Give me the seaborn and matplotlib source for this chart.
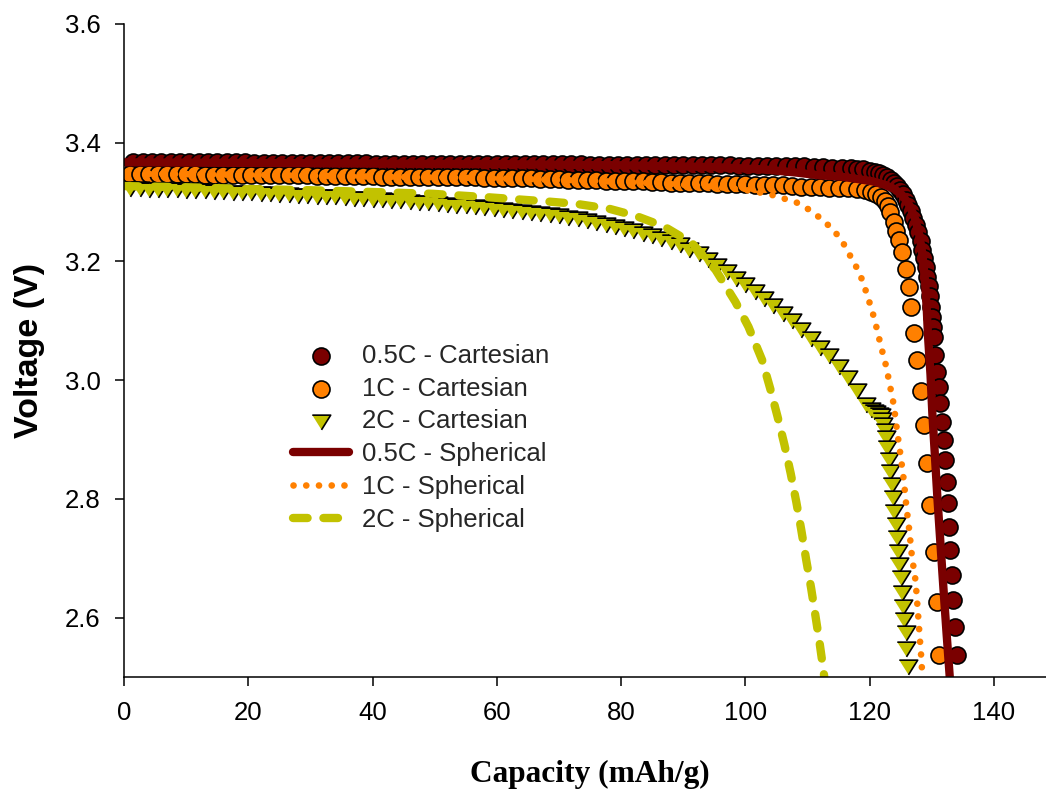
import matplotlib
matplotlib.use("Agg")
import matplotlib.pyplot as plt
import seaborn as sns
import pandas as pd

# ---------------- data ----------------
# 0.5C - Cartesian (capacity mAh/g, voltage V)
cart_05C = [
    (1.5, 3.367), (3.0, 3.367), (4.5, 3.367), (6.0, 3.367), (7.5, 3.367), (9.0, 3.367),
    (10.5, 3.367), (12.0, 3.367), (13.5, 3.367), (15.0, 3.367), (16.5, 3.367), (18.0, 3.367),
    (19.5, 3.367), (21.0, 3.366), (22.5, 3.366), (24.0, 3.366), (25.5, 3.366), (27.0, 3.366),
    (28.5, 3.366), (30.0, 3.366), (31.5, 3.366), (33.0, 3.366), (34.5, 3.366), (36.0, 3.366),
    (37.5, 3.366), (39.0, 3.366), (40.5, 3.365), (42.0, 3.365), (43.5, 3.365), (45.0, 3.365),
    (46.5, 3.365), (48.0, 3.365), (49.5, 3.365), (51.0, 3.365), (52.5, 3.365), (54.0, 3.365),
    (55.5, 3.365), (57.0, 3.365), (58.5, 3.365), (60.0, 3.364), (61.5, 3.364), (63.0, 3.364),
    (64.5, 3.364), (66.0, 3.364), (67.5, 3.364), (69.0, 3.364), (70.5, 3.364), (72.0, 3.364),
    (73.5, 3.364), (75.0, 3.363), (76.5, 3.363), (78.0, 3.363), (79.5, 3.363), (81.0, 3.363),
    (82.5, 3.363), (84.0, 3.363), (85.5, 3.363), (87.0, 3.363), (88.5, 3.362), (90.0, 3.362),
    (91.5, 3.362), (93.0, 3.362), (94.5, 3.362), (96.0, 3.362), (97.5, 3.362), (99.0, 3.361),
    (100.5, 3.361), (102.0, 3.361), (103.5, 3.361), (105.0, 3.361), (106.5, 3.360), (108.0, 3.360),
    (109.5, 3.360), (111.0, 3.359), (112.5, 3.359), (114.0, 3.358), (115.5, 3.358),
    (117.0, 3.357), (118.0, 3.356), (119.0, 3.355), (120.0, 3.353), (120.8, 3.351), (121.5, 3.349),
    (122.2, 3.346), (122.8, 3.342), (123.4, 3.338), (123.9, 3.333), (124.4, 3.327), (124.9, 3.320),
    (125.3, 3.313), (125.8, 3.304), (126.2, 3.295), (126.6, 3.285), (127.0, 3.274), (127.4, 3.262),
    (127.8, 3.249), (128.2, 3.235), (128.5, 3.220), (128.8, 3.205), (129.1, 3.190), (129.3, 3.174),
    (129.5, 3.158), (129.7, 3.141), (129.9, 3.124), (130.1, 3.107), (130.2, 3.090), (130.3, 3.073),
    (130.6, 3.042), (130.9, 3.014), (131.1, 2.989), (131.4, 2.961), (131.7, 2.930), (131.9, 2.899),
    (132.2, 2.865), (132.4, 2.829), (132.6, 2.793), (132.7, 2.753), (133.0, 2.714), (133.3, 2.672),
    (133.5, 2.630), (133.8, 2.585), (134.1, 2.537),
]

# 1C - Cartesian
cart_1C = [
    (1.0, 3.348), (2.5, 3.348), (4.0, 3.348), (5.5, 3.347), (7.0, 3.347), (8.5, 3.347),
    (10.0, 3.347), (11.5, 3.347), (13.0, 3.346), (14.5, 3.346), (16.0, 3.346), (17.5, 3.346),
    (19.0, 3.346), (20.5, 3.346), (22.0, 3.345), (23.5, 3.345), (25.0, 3.345), (26.5, 3.345),
    (28.0, 3.345), (29.5, 3.345), (31.0, 3.344), (32.5, 3.344), (34.0, 3.344), (35.5, 3.344),
    (37.0, 3.344), (38.5, 3.344), (40.0, 3.344), (41.5, 3.343), (43.0, 3.343), (44.5, 3.343),
    (46.0, 3.343), (47.5, 3.343), (49.0, 3.343), (50.5, 3.343), (52.0, 3.342), (53.5, 3.342),
    (55.0, 3.342), (56.5, 3.342), (58.0, 3.341), (59.5, 3.341), (61.0, 3.341), (62.5, 3.340),
    (64.0, 3.340), (65.5, 3.340), (67.0, 3.339), (68.5, 3.339), (70.0, 3.339), (71.5, 3.338),
    (73.0, 3.338), (74.5, 3.337), (76.0, 3.337), (77.5, 3.336), (79.0, 3.336), (80.5, 3.336),
    (82.0, 3.335), (83.5, 3.335), (85.0, 3.334), (86.5, 3.334), (88.0, 3.333), (89.5, 3.333),
    (91.0, 3.333), (92.5, 3.332), (94.0, 3.332), (95.5, 3.331), (97.0, 3.331), (98.5, 3.330),
    (100.0, 3.330), (101.5, 3.329), (103.0, 3.329), (104.5, 3.328), (106.0, 3.328), (107.5, 3.327),
    (109.0, 3.326), (110.5, 3.326), (112.0, 3.325), (113.5, 3.324), (115.0, 3.324), (116.5, 3.323),
    (118.0, 3.322), (119.2, 3.320), (120.2, 3.317), (121.1, 3.313), (121.8, 3.308), (122.4, 3.302),
    (122.9, 3.294), (123.3, 3.284), (123.9, 3.267), (124.3, 3.252), (124.7, 3.236), (125.2, 3.216),
    (125.8, 3.188), (126.3, 3.157), (126.6, 3.124), (127.2, 3.080), (127.6, 3.034), (128.2, 2.981),
    (128.7, 2.924), (129.3, 2.860), (129.8, 2.790), (130.3, 2.711), (130.8, 2.627), (131.1, 2.537),
]

# 2C - Cartesian
cart_2C = [
    (1.0, 3.322), (2.5, 3.322), (4.0, 3.321), (5.5, 3.321), (7.0, 3.320), (8.5, 3.320),
    (10.0, 3.319), (11.5, 3.318), (13.0, 3.318), (14.5, 3.317), (16.0, 3.317), (17.5, 3.316),
    (19.0, 3.315), (20.5, 3.315), (22.0, 3.314), (23.5, 3.313), (25.0, 3.312), (26.5, 3.312),
    (28.0, 3.311), (29.5, 3.310), (31.0, 3.309), (32.5, 3.308), (34.0, 3.308), (35.5, 3.307),
    (37.0, 3.306), (38.5, 3.305), (40.0, 3.304), (41.5, 3.303), (43.0, 3.302), (44.5, 3.301),
    (46.0, 3.300), (47.5, 3.299), (49.0, 3.298), (50.5, 3.297), (52.0, 3.295), (53.5, 3.294),
    (55.0, 3.293), (56.5, 3.291), (58.0, 3.290), (59.5, 3.288), (61.0, 3.287), (62.5, 3.285),
    (64.0, 3.284), (65.5, 3.282), (67.0, 3.280), (68.5, 3.278), (70.0, 3.276), (71.5, 3.274),
    (73.0, 3.271), (74.5, 3.268), (76.0, 3.265), (77.5, 3.262), (79.0, 3.258), (80.5, 3.255),
    (82.0, 3.251), (83.5, 3.247), (85.0, 3.243), (86.5, 3.238), (88.0, 3.233), (89.5, 3.227),
    (91.0, 3.220), (92.5, 3.212), (94.0, 3.203), (95.5, 3.193), (97.0, 3.182), (98.5, 3.171),
    (100.0, 3.160), (101.5, 3.148), (103.0, 3.137), (104.5, 3.125), (106.0, 3.112), (107.5, 3.099),
    (109.0, 3.085), (110.5, 3.070), (112.0, 3.055), (113.5, 3.040), (115.0, 3.023), (116.5, 3.003),
    (118.0, 2.982), (119.5, 2.958), (120.2, 2.950), (120.7, 2.946), (121.1, 2.944), (121.5, 2.942),
    (121.8, 2.939), (122.0, 2.933), (122.2, 2.925), (122.4, 2.914), (122.6, 2.902), (122.8, 2.885),
    (123.1, 2.866), (123.3, 2.846), (123.6, 2.823), (123.8, 2.801), (124.0, 2.778), (124.2, 2.756),
    (124.4, 2.734), (124.6, 2.711), (124.8, 2.689), (125.0, 2.666), (125.2, 2.641), (125.4, 2.618),
    (125.6, 2.596), (125.8, 2.574), (125.9, 2.548), (126.1, 2.517),
]

# 0.5C - Spherical (model line)
sph_05C = [
    (0.0, 3.367), (20.0, 3.366), (40.0, 3.365), (60.0, 3.364), (80.0, 3.362), (95.0, 3.359),
    (103.0, 3.355), (108.0, 3.350), (112.0, 3.345), (115.3, 3.343), (118.0, 3.339), (120.5, 3.335),
    (122.5, 3.329), (124.0, 3.322), (125.3, 3.311), (126.4, 3.295), (127.3, 3.273), (128.0, 3.245),
    (128.5, 3.212), (128.9, 3.170), (129.2, 3.120), (129.4, 3.075), (129.8, 3.010), (130.1, 2.944),
    (130.5, 2.875), (130.9, 2.804), (131.4, 2.725), (131.9, 2.647), (132.4, 2.572), (132.9, 2.500),
]

# 1C - Spherical
sph_1C = [
    (0.0, 3.348), (20.0, 3.346), (40.0, 3.343), (60.0, 3.340), (75.0, 3.336), (85.0, 3.332),
    (92.0, 3.328), (97.0, 3.324), (100.3, 3.320), (102.4, 3.316), (104.3, 3.312), (106.2, 3.306),
    (108.3, 3.299), (110.3, 3.287), (112.2, 3.272), (114.2, 3.253), (115.7, 3.232), (116.8, 3.211),
    (117.9, 3.190), (118.8, 3.169), (119.5, 3.147), (120.1, 3.127), (120.7, 3.106), (121.2, 3.085),
    (121.7, 3.063), (122.2, 3.042), (122.7, 3.022), (123.1, 3.000), (123.9, 2.958), (124.4, 2.916),
    (125.0, 2.872), (125.5, 2.832), (125.9, 2.789), (126.4, 2.746), (126.8, 2.704), (127.4, 2.662),
    (127.7, 2.620), (128.0, 2.577), (128.3, 2.535), (128.5, 2.500),
]

# 2C - Spherical
sph_2C = [
    (0.0, 3.327), (10.0, 3.325), (20.0, 3.322), (30.0, 3.320), (40.0, 3.317), (49.6, 3.314),
    (58.8, 3.308), (68.2, 3.301), (72.8, 3.297), (78.0, 3.289), (82.3, 3.277), (86.9, 3.259),
    (91.4, 3.231), (95.2, 3.186), (98.4, 3.132), (100.5, 3.090), (102.7, 3.034), (104.0, 2.986),
    (105.2, 2.938), (106.3, 2.891), (107.3, 2.843), (108.2, 2.795), (109.0, 2.748), (109.8, 2.697),
    (110.6, 2.649), (111.3, 2.602), (112.0, 2.554), (112.6, 2.509), (112.7, 2.500),
]

labels = ["0.5C - Cartesian", "1C - Cartesian", "2C - Cartesian",
          "0.5C - Spherical", "1C - Spherical", "2C - Spherical"]
x_ticks = [0, 20, 40, 60, 80, 100, 120, 140]
y_ticks = [2.6, 2.8, 3.0, 3.2, 3.4, 3.6]

# ---------------- style ----------------
sns.set_theme(style="ticks")
plt.rcParams["font.family"] = ["Liberation Sans", "DejaVu Sans"]

C_DARKRED = "#7A0000"
C_ORANGE = "#FF8000"
C_OLIVE = "#C2C200"

W, H = 1046, 789
fig = plt.figure(figsize=(W / 100, H / 100), dpi=100)
ax = fig.add_axes([124 / W, 112 / H, 932 / W, 653 / H])


def frame(points):
    xs, ys = zip(*points)
    return pd.DataFrame({"cap": xs, "volt": ys})


tri = [(-1.0, 0.8), (1.0, 0.8), (0.0, -0.8)]

sns.scatterplot(data=frame(cart_05C), x="cap", y="volt", ax=ax, marker="o", s=150,
                color=C_DARKRED, edgecolor="black", linewidth=1.2, label=labels[0], legend=False)
sns.scatterplot(data=frame(cart_1C), x="cap", y="volt", ax=ax, marker="o", s=150,
                color=C_ORANGE, edgecolor="black", linewidth=1.2, label=labels[1], legend=False)
sns.scatterplot(data=frame(cart_2C), x="cap", y="volt", ax=ax, marker=tri, s=175,
                color=C_OLIVE, edgecolor="black", linewidth=1.2, label=labels[2], legend=False)

sns.lineplot(data=frame(sph_05C), x="cap", y="volt", ax=ax, sort=False, estimator=None,
             color=C_DARKRED, linewidth=6.0, solid_capstyle="round", label=labels[3], legend=False)
sns.lineplot(data=frame(sph_1C), x="cap", y="volt", ax=ax, sort=False, estimator=None,
             color=C_ORANGE, linewidth=4.8, linestyle=(0, (0.01, 1.9)), dash_capstyle="round",
             label=labels[4], legend=False)
sns.lineplot(data=frame(sph_2C), x="cap", y="volt", ax=ax, sort=False, estimator=None,
             color=C_OLIVE, linewidth=6.0, linestyle=(0, (1.75, 1.9)), dash_capstyle="round",
             label=labels[5], legend=False)

# ---------------- axes ----------------
ax.set_xlim(0, 150)
ax.set_ylim(2.5, 3.6)
ax.set_xticks(x_ticks)
ax.set_yticks(y_ticks)
ax.set_xticklabels([str(t) for t in x_ticks])
ax.set_yticklabels([f"{t:.1f}" for t in y_ticks])
ax.tick_params(axis="both", direction="out", length=6.5, width=1.1, labelsize=18.5,
               pad=10.5, colors="black")
for side in ("top", "right"):
    ax.spines[side].set_visible(False)
for side in ("left", "bottom"):
    ax.spines[side].set_linewidth(1.1)
    ax.spines[side].set_color("black")
ax.grid(False)

ax.set_xlabel("Capacity (mAh/g)", fontsize=22.6, fontweight="bold",
              family=["Liberation Serif", "DejaVu Serif"], color="black")
ax.set_ylabel("Voltage (V)", fontsize=24.5, fontweight="bold", color="black")
ax.xaxis.set_label_coords(0.5, -0.127)
ax.yaxis.set_label_coords(-0.0848, 0.5)

handles, labs = ax.get_legend_handles_labels()
hmap = dict(zip(labs, handles))
leg = ax.legend([hmap[l] for l in labels], labels, loc="upper left",
                bbox_to_anchor=(293 / W, 1 - 344 / H), bbox_transform=fig.transFigure,
                frameon=False, fontsize=18.5, borderpad=0, borderaxespad=0,
                handlelength=2.18, handletextpad=0.5, labelspacing=0.34, scatterpoints=1)

fig.savefig("out.png", dpi=100)
